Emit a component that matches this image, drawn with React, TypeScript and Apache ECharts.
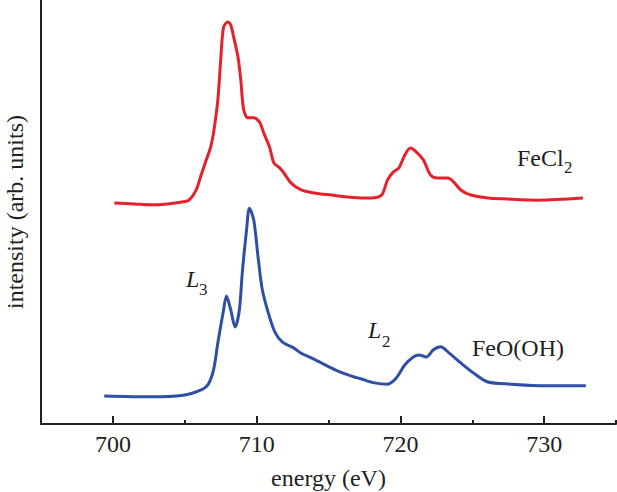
import React, { useEffect, useRef } from "react";
import * as echarts from "echarts";

// energy (eV) and intensity (arb. units, 0-100 scale)
const redEnergy = [700.1, 701.5, 702.6, 703.8, 704.9, 705.3, 705.8, 706.1, 706.5, 706.8, 707.0, 707.3, 707.5, 707.7, 708.0, 708.2, 708.4, 708.7, 708.9, 709.1, 709.4, 709.8, 710.2, 710.5, 710.9, 711.2, 711.6, 711.9, 712.4, 713.1, 714.0, 715.2, 716.5, 718.0, 718.7, 719.1, 719.5, 719.9, 720.3, 720.7, 721.1, 721.6, 722.1, 722.6, 723.3, 723.7, 724.2, 724.9, 726.1, 727.2, 729.6, 732.7];
const redIntensity = [52.1, 51.9, 51.7, 51.9, 52.4, 52.8, 55.2, 58.3, 62.3, 65.3, 68.6, 76.4, 85.8, 93.6, 94.8, 94.1, 91.3, 86.6, 81.1, 74.1, 72.2, 72.2, 71.2, 68.6, 65.3, 61.6, 60.4, 59.2, 56.8, 55.2, 54.5, 54.0, 53.5, 53.3, 54.0, 57.5, 59.4, 60.4, 63.4, 65.1, 64.2, 62.3, 58.7, 58.0, 58.0, 57.1, 55.2, 54.0, 53.3, 53.1, 52.8, 53.3];

const blueEnergy = [699.4, 702.6, 704.9, 706.1, 706.6, 707.0, 707.3, 707.7, 707.9, 708.2, 708.5, 708.8, 709.0, 709.3, 709.5, 709.8, 710.1, 710.4, 710.9, 711.3, 711.8, 712.6, 713.1, 713.8, 714.5, 715.5, 716.6, 717.3, 718.2, 719.1, 719.7, 720.3, 720.9, 721.3, 721.8, 722.3, 722.8, 723.4, 724.2, 725.1, 726.1, 727.7, 730.0, 732.9];
const blueIntensity = [6.6, 6.4, 6.8, 8.0, 9.2, 12.7, 19.1, 26.9, 30.2, 26.9, 22.9, 26.9, 35.6, 45.8, 50.9, 48.1, 39.4, 31.6, 25.2, 21.5, 19.3, 17.9, 16.7, 15.6, 14.4, 12.7, 11.3, 10.6, 9.7, 9.4, 10.8, 13.9, 15.8, 16.3, 15.8, 17.5, 18.2, 16.7, 14.4, 12.0, 9.9, 9.4, 9.0, 9.0];

const majorTicks = [700, 710, 720, 730];
const minorTicks = [705, 715, 725, 735];

const FONT = "Liberation Serif";
const TXT = "#231f20";

export default function App() {
  const ref = useRef<HTMLDivElement>(null);
  useEffect(() => {
    const chart = echarts.init(ref.current!, null, { renderer: "svg" });
    const red = redEnergy.map((e, i) => [e, redIntensity[i]]);
    const blue = blueEnergy.map((e, i) => [e, blueIntensity[i]]);
    const t = (text: string, x: number, y: number, size: number, italic = false) => ({
      type: "text",
      x,
      y,
      style: {
        text,
        fill: TXT,
        fontFamily: FONT,
        fontSize: size,
        fontStyle: italic ? "italic" : "normal",
        align: "left",
        verticalAlign: "middle",
      },
    });
    chart.setOption({
      animation: false,
      grid: { left: 41, right: 1, top: 0, bottom: 68, containLabel: false, outerBoundsMode: "none" },
      xAxis: [
        {
          type: "value",
          min: 695,
          max: 735,
          position: "bottom",
          name: "energy (eV)",
          nameLocation: "middle",
          nameGap: 42,
          nameTextStyle: { fontFamily: FONT, fontSize: 24, color: TXT },
          axisLine: { show: true, onZero: false, lineStyle: { color: TXT, width: 2 } },
          axisTick: { show: true, inside: true, length: 8, customValues: majorTicks, lineStyle: { color: TXT, width: 2 } },
          axisLabel: { show: true, customValues: majorTicks, margin: 8, fontFamily: FONT, fontSize: 24, color: TXT },
          splitLine: { show: false },
        },
        {
          type: "value",
          min: 695,
          max: 735,
          position: "bottom",
          axisLine: { show: false },
          axisTick: { show: true, inside: true, length: 4, customValues: minorTicks, lineStyle: { color: TXT, width: 2 } },
          axisLabel: { show: false },
          splitLine: { show: false },
        },
      ],
      yAxis: {
        type: "value",
        min: 0,
        max: 100,
        name: "intensity (arb. units)",
        nameLocation: "middle",
        nameGap: 14,
        nameTextStyle: { fontFamily: FONT, fontSize: 24, color: TXT },
        axisLine: { show: true, lineStyle: { color: TXT, width: 2 } },
        axisTick: { show: false },
        axisLabel: { show: false },
        splitLine: { show: false },
      },
      series: [
        {
          type: "line",
          name: "FeCl2",
          data: red,
          xAxisIndex: 0,
          showSymbol: false,
          smooth: 0.3,
          lineStyle: { color: "#e5222b", width: 3 },
        },
        {
          type: "line",
          name: "FeO(OH)",
          data: blue,
          xAxisIndex: 0,
          showSymbol: false,
          smooth: 0.3,
          lineStyle: { color: "#2f4fa6", width: 3 },
        },
      ],
      graphic: [
        t("FeCl", 517, 158, 24),
        t("2", 564, 167.5, 17),
        t("FeO(OH)", 472, 348, 24),
        t("L", 186, 279, 24, true),
        t("3", 199, 289, 17),
        t("L", 368, 330, 24, true),
        t("2", 382, 341, 17),
      ],
    });
    return () => chart.dispose();
  }, []);
  return <div ref={ref} style={{ position: "fixed", left: 0, top: 0, width: 617, height: 492, background: "#fff" }} />;
}
